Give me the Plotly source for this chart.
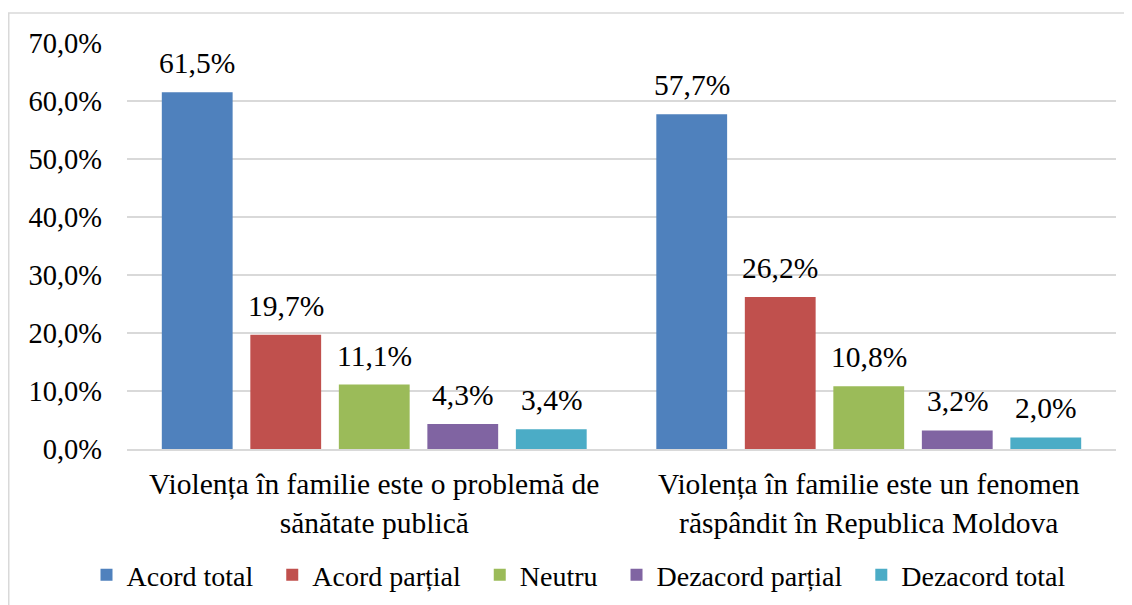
import plotly.graph_objects as go

categories = [
    "Violența în familie este o problemă de<br>sănătate publică",
    "Violența în familie este un fenomen<br>răspândit în Republica Moldova",
]
series_names = ["Acord total", "Acord parțial", "Neutru", "Dezacord parțial", "Dezacord total"]
acord_total = [61.5, 57.7]
acord_partial = [19.7, 26.2]
neutru = [11.1, 10.8]
dezacord_partial = [4.3, 3.2]
dezacord_total = [3.4, 2.0]
y_ticks = [0, 10, 20, 30, 40, 50, 60, 70]
y_tick_labels = [f"{v:.1f}".replace(".", ",") + "%" for v in y_ticks]

series_values = [acord_total, acord_partial, neutru, dezacord_partial, dezacord_total]
colors = ["#4F81BD", "#C0504D", "#9BBB59", "#8064A2", "#4BACC6"]

FONT = "Liberation Serif"
FS = 29.5
FS_Y = 28.5
FS_LEG = 28
# page body has an 8px margin, so the figure is 8px smaller than the window
W, H = 1124, 597
L, R, T, B = 119, 16, 35, 156
plot_w = W - L - R
plot_h = H - T - B

fig = go.Figure()
n = len(series_names)
for k, (name, vals, col) in enumerate(zip(series_names, series_values, colors)):
    legend_label = name + ("\u00a0\u00a0" if k < n - 1 else "")
    fig.add_trace(go.Bar(
        name=legend_label, x=categories, y=vals,
        marker=dict(color=col, line=dict(width=0)),
        hovertemplate=name + ": %{y:.1f}%<extra></extra>",
    ))

bargap = 0.105
groupgap = 0.2
cat_w = plot_w / len(categories)
slot = cat_w * (1 - bargap) / n
for i, vals in enumerate(series_values):
    for c, v in zip(categories, vals):
        fig.add_annotation(
            x=c, y=v, xref="x", yref="y",
            text=f"{v:.1f}".replace(".", ",") + "%",
            showarrow=False, yanchor="bottom",
            xshift=(i - (n - 1) / 2) * slot, yshift=11,
            font=dict(family=FONT, size=FS, color="#000000"),
        )

fig.add_shape(
    type="rect", xref="paper", yref="paper",
    x0=(0.75 - L) / plot_w, x1=1.2,
    y0=-0.6, y1=(H - B - 5) / plot_h,
    line=dict(color="#D9D9D9", width=1.5), fillcolor="rgba(0,0,0,0)",
    layer="below",
)

fig.update_layout(
    width=W, height=H,
    margin=dict(l=L, r=R, t=T, b=B, pad=0, autoexpand=False),
    barmode="group", bargap=bargap, bargroupgap=groupgap,
    plot_bgcolor="white", paper_bgcolor="white",
    font=dict(family=FONT, size=FS, color="#000000"),
    showlegend=True,
    legend=dict(
        orientation="h", x=(571 - L) / plot_w, xanchor="center",
        y=(H - B - 567) / plot_h, yanchor="middle",
        bgcolor="rgba(0,0,0,0)",
        font=dict(family=FONT, size=FS_LEG, color="#000000"),
        itemwidth=30, tracegroupgap=0,
    ),
)
fig.update_yaxes(
    range=[0, 70], tickmode="array", tickvals=y_ticks, ticktext=y_tick_labels,
    showgrid=True, gridcolor="#D9D9D9", gridwidth=1.5,
    zeroline=False, showline=False, automargin=False,
    ticklabelstandoff=24,
    tickfont=dict(family=FONT, size=FS_Y, color="#000000"),
)
fig.update_xaxes(
    showline=True, linecolor="#D9D9D9", linewidth=1.5,
    showgrid=False, automargin=False,
    tickfont=dict(family=FONT, size=FS, color="#000000"),
    ticklabelstandoff=8,
)

fig.write_html("out.html")
